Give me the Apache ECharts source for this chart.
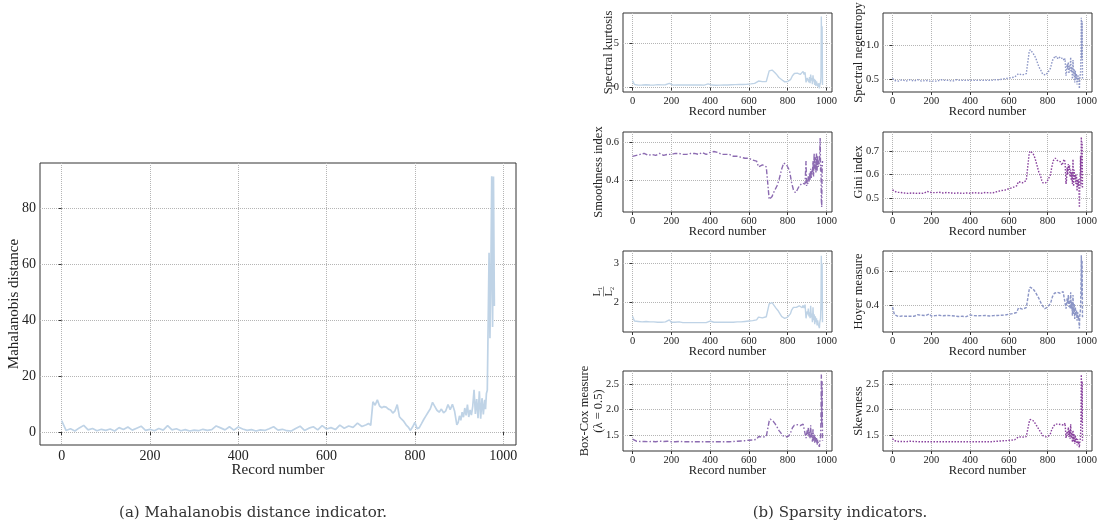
<!DOCTYPE html>
<html>
<head>
<meta charset="utf-8">
<title>Mahalanobis distance and sparsity indicators</title>
<script src="https://cdn.jsdelivr.net/npm/echarts@6/dist/echarts.min.js"></script>
<style>
  html, body { margin: 0; padding: 0; background: #fff; }
  #chart { width: 1104px; height: 525px; }
</style>
</head>
<body>
<div id="chart"></div>
<script>
const records = [
  0, 10, 20, 30, 40, 50, 60, 70, 80, 90,
  100, 110, 120, 130, 140, 150, 160, 170, 180, 190,
  200, 210, 220, 230, 240, 250, 260, 270, 280, 290,
  300, 310, 320, 330, 340, 350, 360, 370, 380, 390,
  400, 410, 420, 430, 440, 450, 460, 470, 480, 490,
  500, 510, 520, 530, 540, 550, 560, 570, 580, 590,
  600, 610, 620, 630, 640, 650, 660, 670, 680, 690,
  695, 700, 705, 710, 715, 720, 725, 730, 735, 740,
  745, 750, 755, 760, 765, 770, 775, 780, 785, 790,
  795, 800, 805, 810, 815, 820, 825, 830, 835, 840,
  845, 850, 855, 860, 865, 870, 875, 880, 885, 890,
  895,
  898, 901, 904, 907, 910, 913, 916, 919, 922, 925,
  928, 931, 934, 937, 940, 943, 946, 949, 952, 955,
  958,
  960, 962, 964, 966, 968, 970, 972, 974, 976, 978, 980
];

const xTicks = [0, 200, 400, 600, 800, 1000];

// (a) Mahalanobis distance
const mahalanobis = [
  4.1, 0.6, 1.2, 0.4, 1.5, 2.4, 0.8, 1.3, 0.5, 1.0,
  0.6, 1.1, 0.4, 1.6, 0.9, 1.8, 0.7, 1.4, 2.1, 0.6,
  1.0, 0.5, 1.3, 0.7, 2.3, 0.8, 1.2, 0.5, 0.9, 0.4,
  0.7, 0.5, 1.0, 0.6, 0.9, 2.2, 1.5, 0.8, 1.9, 0.7,
  1.8, 1.1, 0.6, 0.9, 0.4, 0.8, 0.6, 1.2, 1.9, 0.7,
  1.0, 0.5, 0.4, 1.3, 2.1, 0.6, 1.4, 1.9, 0.8, 2.3,
  1.1, 1.6, 0.9, 2.5, 1.4, 2.2, 1.7, 3.2, 2.0, 2.6,
  3.1, 2.4, 10.8, 9.6, 11.5, 9.3, 8.7, 9.1, 8.9, 8.2,
  7.9, 6.8, 7.6, 9.8, 5.5, 4.6, 3.8, 2.6, 1.8, 0.6,
  1.9, 3.5, 1.2, 1.6, 3.0, 4.5, 5.8, 7.1, 8.3, 10.6,
  9.2, 7.8, 7.1, 8.2, 6.9, 7.6, 9.8, 8.0, 9.9, 7.4,
  2.6,
  3.4, 5.8, 4.2, 7.1, 5.3, 8.6, 6.0, 9.8, 5.4, 7.9,
  6.1, 9.2, 15.1, 6.5, 11.8, 5.0, 14.6, 4.8, 12.1, 6.3,
  11.5,
  8.2, 13.8, 14.9, 15.5, 64.0, 33.5, 55.0, 91.3, 37.5, 91.2, 45.0
];

// (b) sparsity indicators
const spectralKurtosis = [
  0.8, 0.35, 0.3, 0.28, 0.32, 0.3, 0.27, 0.33, 0.3, 0.29,
  0.31, 0.28, 0.3, 0.34, 0.29, 0.31, 0.3, 0.33, 0.38, 0.48,
  0.3, 0.28, 0.31, 0.29, 0.33, 0.3, 0.27, 0.3, 0.28, 0.31,
  0.29, 0.3, 0.27, 0.31, 0.29, 0.3, 0.32, 0.28, 0.3, 0.42,
  0.35, 0.29, 0.3, 0.27, 0.31, 0.28, 0.3, 0.29, 0.32, 0.3,
  0.31, 0.33, 0.3, 0.34, 0.32, 0.35, 0.33, 0.36, 0.35, 0.38,
  0.4, 0.42, 0.45, 0.48, 0.5, 0.75, 0.7, 0.68, 0.72, 0.7,
  0.78, 0.85, 1.9, 2.05, 1.95, 2.0, 1.85, 1.8, 1.7, 1.6,
  1.45, 1.3, 1.15, 1.2, 1.0, 0.9, 0.8, 0.72, 0.65, 0.62,
  0.68, 0.7, 0.66, 0.75, 0.9, 1.1, 1.35, 1.5, 1.6, 1.7,
  1.55, 1.65, 1.6, 1.75, 1.5, 1.7, 1.6, 1.85, 1.5, 1.75,
  0.6,
  0.7, 1.1, 0.9, 1.3, 0.6, 1.2, 0.5, 1.5, 0.8, 1.1,
  0.4, 1.4, 0.7, 1.0, 0.3, 0.9, 0.2, 0.7, 0.4, 0.6,
  0.1,
  0.5, 0.2, -0.1, 0.3, 0.4, 0.6, 1.2, 8.1, 3.0, 7.0, 0.3
];

const spectralNegentropy = [
  0.51, 0.48, 0.49, 0.47, 0.48, 0.49, 0.48, 0.47, 0.48, 0.49,
  0.48, 0.47, 0.48, 0.49, 0.48, 0.47, 0.48, 0.48, 0.49, 0.47,
  0.48, 0.47, 0.48, 0.47, 0.48, 0.49, 0.47, 0.48, 0.47, 0.48,
  0.48, 0.47, 0.48, 0.49, 0.47, 0.48, 0.47, 0.48, 0.47, 0.48,
  0.47, 0.48, 0.47, 0.48, 0.47, 0.48, 0.47, 0.48, 0.47, 0.48,
  0.47, 0.48, 0.48, 0.49, 0.48, 0.49, 0.49, 0.5, 0.5, 0.51,
  0.51, 0.52, 0.52, 0.53, 0.53, 0.58, 0.57, 0.56, 0.57, 0.58,
  0.58, 0.6, 0.9, 0.93, 0.92, 0.91, 0.88, 0.86, 0.83, 0.8,
  0.76, 0.72, 0.68, 0.66, 0.63, 0.6, 0.57, 0.56, 0.55, 0.56,
  0.58, 0.59, 0.59, 0.6, 0.66, 0.72, 0.77, 0.8, 0.82, 0.84,
  0.82, 0.8, 0.81, 0.83, 0.8, 0.82, 0.79, 0.81, 0.77, 0.8,
  0.55,
  0.6, 0.72, 0.65, 0.75, 0.58, 0.7, 0.62, 0.82, 0.6, 0.68,
  0.5, 0.78, 0.55, 0.65, 0.45, 0.62, 0.5, 0.58, 0.42, 0.55,
  0.48,
  0.55, 0.45, 0.36, 0.5, 0.55, 0.6, 0.9, 1.4, 0.8, 1.35, 0.5
];

const smoothnessIndex = [
  0.525, 0.535, 0.53, 0.54, 0.535, 0.53, 0.54, 0.535, 0.53, 0.54,
  0.535, 0.54, 0.53, 0.535, 0.54, 0.535, 0.53, 0.54, 0.535, 0.54,
  0.535, 0.53, 0.54, 0.535, 0.54, 0.53, 0.535, 0.54, 0.535, 0.53,
  0.54, 0.545, 0.54, 0.545, 0.535, 0.54, 0.545, 0.54, 0.535, 0.54,
  0.545, 0.54, 0.55, 0.54, 0.545, 0.54, 0.535, 0.54, 0.535, 0.53,
  0.535, 0.53, 0.525, 0.53, 0.525, 0.52, 0.52, 0.515, 0.515, 0.51,
  0.515, 0.51, 0.505, 0.505, 0.5, 0.47, 0.475, 0.48, 0.475, 0.47,
  0.47, 0.465, 0.3, 0.305, 0.31, 0.315, 0.33, 0.34, 0.35, 0.36,
  0.37, 0.385, 0.4, 0.42, 0.44, 0.46, 0.475, 0.49, 0.495, 0.49,
  0.48, 0.475, 0.47, 0.45, 0.42, 0.39, 0.37, 0.35, 0.34, 0.335,
  0.345, 0.35, 0.36, 0.37, 0.375, 0.38, 0.385, 0.39, 0.385, 0.38,
  0.5,
  0.37, 0.4, 0.38, 0.42, 0.39, 0.44, 0.4, 0.46, 0.41, 0.45,
  0.43, 0.5, 0.42, 0.54, 0.46, 0.52, 0.44, 0.54, 0.45, 0.53,
  0.47,
  0.5, 0.48, 0.5, 0.55, 0.62, 0.45, 0.48, 0.3, 0.26, 0.45, 0.5
];

const giniIndex = [
  0.535, 0.528, 0.525, 0.53, 0.524, 0.527, 0.522, 0.526, 0.52, 0.525,
  0.522, 0.526, 0.52, 0.524, 0.521, 0.525, 0.52, 0.523, 0.528, 0.52,
  0.524, 0.519, 0.523, 0.52, 0.525, 0.518, 0.522, 0.52, 0.524, 0.518,
  0.522, 0.517, 0.521, 0.518, 0.522, 0.517, 0.52, 0.518, 0.522, 0.517,
  0.521, 0.518, 0.523, 0.519, 0.522, 0.518, 0.521, 0.519, 0.524, 0.52,
  0.522, 0.524, 0.523, 0.526, 0.528, 0.53, 0.532, 0.535, 0.534, 0.538,
  0.54, 0.543, 0.545, 0.548, 0.552, 0.57, 0.568, 0.565, 0.57, 0.575,
  0.575, 0.58, 0.69, 0.7, 0.695, 0.697, 0.69, 0.685, 0.67, 0.655,
  0.64, 0.625, 0.61, 0.6, 0.59, 0.575, 0.565, 0.56, 0.558, 0.565,
  0.57, 0.575, 0.575, 0.58, 0.6, 0.625, 0.645, 0.66, 0.665, 0.67,
  0.665, 0.66, 0.662, 0.665, 0.655, 0.65, 0.64, 0.645, 0.665, 0.655,
  0.56,
  0.58, 0.63, 0.6, 0.645, 0.62, 0.64, 0.59, 0.62, 0.575, 0.61,
  0.56, 0.665, 0.55, 0.62, 0.58, 0.6, 0.56, 0.6, 0.53, 0.58,
  0.55,
  0.58, 0.53, 0.46, 0.56, 0.6, 0.68, 0.55, 0.76, 0.6, 0.74, 0.54
];

const l1l2Ratio = [
  1.65, 1.53, 1.51, 1.52, 1.5, 1.51, 1.5, 1.52, 1.5, 1.51,
  1.5, 1.51, 1.49, 1.5, 1.51, 1.5, 1.49, 1.51, 1.53, 1.56,
  1.5, 1.49, 1.5, 1.49, 1.51, 1.5, 1.49, 1.5, 1.49, 1.5,
  1.49, 1.5, 1.49, 1.51, 1.49, 1.5, 1.49, 1.5, 1.49, 1.52,
  1.53, 1.49, 1.5, 1.49, 1.5, 1.49, 1.5, 1.49, 1.5, 1.49,
  1.5, 1.49, 1.5, 1.5, 1.51, 1.5, 1.51, 1.52, 1.52, 1.53,
  1.53, 1.54, 1.54, 1.55, 1.56, 1.63, 1.62, 1.61, 1.63, 1.64,
  1.64, 1.66, 1.97, 2.02, 1.98, 2.0, 1.96, 1.93, 1.88, 1.86,
  1.84, 1.8, 1.75, 1.72, 1.68, 1.64, 1.62, 1.61, 1.6, 1.6,
  1.62, 1.63, 1.64, 1.65, 1.72, 1.8, 1.85, 1.88, 1.9, 1.91,
  1.88, 1.9, 1.89, 1.92, 1.88, 1.9, 1.87, 1.93, 1.86, 1.95,
  1.6,
  1.62, 1.78, 1.7, 1.85, 1.65, 1.75, 1.6, 1.92, 1.62, 1.72,
  1.5, 1.88, 1.55, 1.7, 1.45, 1.65, 1.5, 1.6, 1.42, 1.55,
  1.45,
  1.5, 1.42, 1.35, 1.5, 1.55, 1.6, 2.0, 3.2, 1.8, 3.0, 1.5
];

const hoyerMeasure = [
  0.39, 0.345, 0.34, 0.335, 0.342, 0.338, 0.344, 0.336, 0.341, 0.337,
  0.343, 0.336, 0.34, 0.345, 0.337, 0.342, 0.335, 0.34, 0.348, 0.35,
  0.338, 0.334, 0.34, 0.336, 0.342, 0.335, 0.339, 0.334, 0.341, 0.336,
  0.34, 0.334, 0.338, 0.342, 0.335, 0.34, 0.336, 0.339, 0.334, 0.342,
  0.344, 0.336, 0.34, 0.334, 0.339, 0.335, 0.34, 0.336, 0.341, 0.335,
  0.338, 0.334, 0.34, 0.337, 0.341, 0.338, 0.342, 0.345, 0.343, 0.347,
  0.348, 0.35, 0.352, 0.355, 0.358, 0.385, 0.38, 0.378, 0.383, 0.386,
  0.388, 0.39, 0.49, 0.505, 0.5, 0.498, 0.495, 0.49, 0.48, 0.47,
  0.46, 0.45, 0.44, 0.43, 0.415, 0.405, 0.395, 0.385, 0.38, 0.382,
  0.386, 0.39, 0.388, 0.392, 0.41, 0.43, 0.45, 0.46, 0.47, 0.475,
  0.47, 0.475, 0.472, 0.478, 0.47, 0.476, 0.468, 0.48, 0.47, 0.485,
  0.38,
  0.39, 0.44, 0.41, 0.46, 0.39, 0.43, 0.38, 0.475, 0.38, 0.42,
  0.34, 0.46, 0.35, 0.41, 0.32, 0.39, 0.34, 0.37, 0.31, 0.36,
  0.32,
  0.34, 0.3, 0.265, 0.34, 0.36, 0.38, 0.5, 0.69, 0.45, 0.66, 0.33
];

const boxCoxMeasure = [
  1.43, 1.4, 1.39, 1.395, 1.385, 1.39, 1.385, 1.39, 1.38, 1.39,
  1.385, 1.39, 1.38, 1.385, 1.39, 1.38, 1.385, 1.38, 1.39, 1.385,
  1.38, 1.375, 1.38, 1.375, 1.385, 1.375, 1.38, 1.375, 1.38, 1.375,
  1.38, 1.375, 1.38, 1.375, 1.38, 1.375, 1.38, 1.375, 1.38, 1.385,
  1.38, 1.375, 1.38, 1.375, 1.38, 1.375, 1.38, 1.375, 1.38, 1.378,
  1.38, 1.382, 1.385, 1.385, 1.39, 1.39, 1.395, 1.398, 1.4, 1.405,
  1.408, 1.41, 1.415, 1.42, 1.425, 1.48, 1.475, 1.47, 1.478, 1.482,
  1.485, 1.49, 1.78, 1.82, 1.8, 1.81, 1.78, 1.76, 1.73, 1.7,
  1.67, 1.64, 1.6, 1.58, 1.55, 1.52, 1.5, 1.48, 1.47, 1.47,
  1.48, 1.49, 1.49, 1.5, 1.55, 1.6, 1.65, 1.68, 1.7, 1.72,
  1.7, 1.71, 1.7, 1.72, 1.69, 1.71, 1.68, 1.72, 1.69, 1.73,
  1.45,
  1.47, 1.6, 1.52, 1.65, 1.48, 1.58, 1.45, 1.7, 1.46, 1.55,
  1.38, 1.62, 1.4, 1.52, 1.35, 1.48, 1.38, 1.45, 1.32, 1.42,
  1.35,
  1.38, 1.32, 1.28, 1.38, 1.42, 1.48, 1.8, 2.68, 1.7, 2.55, 1.4
];

const skewness = [
  1.44, 1.4, 1.39, 1.385, 1.39, 1.385, 1.39, 1.38, 1.385, 1.39,
  1.38, 1.385, 1.39, 1.38, 1.385, 1.38, 1.39, 1.38, 1.385, 1.38,
  1.375, 1.38, 1.375, 1.38, 1.375, 1.38, 1.375, 1.38, 1.372, 1.38,
  1.375, 1.38, 1.372, 1.378, 1.375, 1.38, 1.372, 1.378, 1.375, 1.38,
  1.375, 1.378, 1.372, 1.38, 1.375, 1.378, 1.372, 1.38, 1.376, 1.38,
  1.378, 1.38, 1.383, 1.386, 1.388, 1.392, 1.394, 1.398, 1.4, 1.403,
  1.406, 1.41, 1.413, 1.418, 1.422, 1.475, 1.47, 1.468, 1.475, 1.48,
  1.485, 1.49, 1.76, 1.81, 1.84, 1.8, 1.79, 1.77, 1.74, 1.71,
  1.68, 1.65, 1.62, 1.59, 1.56, 1.53, 1.5, 1.49, 1.48, 1.475,
  1.48, 1.485, 1.49, 1.5, 1.54, 1.6, 1.64, 1.68, 1.7, 1.72,
  1.71, 1.7, 1.72, 1.7, 1.69, 1.71, 1.68, 1.72, 1.7, 1.74,
  1.45,
  1.46, 1.58, 1.5, 1.66, 1.47, 1.6, 1.44, 1.72, 1.45, 1.56,
  1.37, 1.6, 1.39, 1.53, 1.34, 1.5, 1.37, 1.46, 1.31, 1.43,
  1.34,
  1.38, 1.31, 1.27, 1.37, 1.42, 1.5, 1.85, 2.68, 1.75, 2.55, 1.4
];

// y tick values and their printed labels
const mdTicks = [0, 20, 40, 60, 80];
const mdTickLabels = ['0', '20', '40', '60', '80'];
const skTicks = [0, 5];
const skTickLabels = ['0', '5'];
const snTicks = [0.5, 1.0];
const snTickLabels = ['0.5', '1.0'];
const siTicks = [0.4, 0.6];
const siTickLabels = ['0.4', '0.6'];
const giTicks = [0.5, 0.6, 0.7];
const giTickLabels = ['0.5', '0.6', '0.7'];
const lrTicks = [2, 3];
const lrTickLabels = ['2', '3'];
const hmTicks = [0.4, 0.6];
const hmTickLabels = ['0.4', '0.6'];
const bcTicks = [1.5, 2.0, 2.5];
const bcTickLabels = ['1.5', '2.0', '2.5'];
const swTicks = [1.5, 2.0, 2.5];
const swTickLabels = ['1.5', '2.0', '2.5'];

const SERIF = '"Liberation Serif", "DejaVu Serif", serif';
const TEXT = '#222';

// layout + style for each panel
const panels = [
  { name: 'Mahalanobis distance', vals: mahalanobis, ticks: mdTicks, labels: mdTickLabels,
    box: [40, 163, 476, 282], yMin: -4.6, yMax: 96, color: '#bfd3e6', dash: 'solid', gap: 18, big: true },
  { name: 'Spectral kurtosis', vals: spectralKurtosis, ticks: skTicks, labels: skTickLabels,
    box: [623, 13, 209, 79], yMin: -0.5, yMax: 8.5, color: '#bfd3e6', dash: 'solid', gap: 8 },
  { name: 'Spectral negentropy', vals: spectralNegentropy, ticks: snTicks, labels: snTickLabels,
    box: [883, 13, 209, 79], yMin: 0.31, yMax: 1.47, color: '#8c96c6', dash: [1.5, 1.5], gap: 18 },
  { name: 'Smoothness index', vals: smoothnessIndex, ticks: siTicks, labels: siTickLabels,
    box: [623, 132, 209, 80], yMin: 0.234, yMax: 0.652, color: '#8c6bb1', dash: [5, 2, 1.5, 2], gap: 18 },
  { name: 'Gini index', vals: giniIndex, ticks: giTicks, labels: giTickLabels,
    box: [883, 132, 209, 80], yMin: 0.441, yMax: 0.781, color: '#88419d', dash: [1.5, 1.5], gap: 18 },
  { name: 'L\u2081\n\u2014\nL\u2082', vals: l1l2Ratio, ticks: lrTicks, labels: lrTickLabels,
    box: [623, 251, 209, 81], yMin: 1.25, yMax: 3.32, color: '#bfd3e6', dash: 'solid', gap: 11, frac: true },
  { name: 'Hoyer measure', vals: hoyerMeasure, ticks: hmTicks, labels: hmTickLabels,
    box: [883, 251, 209, 81], yMin: 0.245, yMax: 0.715, color: '#8c96c6', dash: [3, 1.5], gap: 18 },
  { name: 'Box-Cox measure\n(\u03bb = 0.5)', vals: boxCoxMeasure, ticks: bcTicks, labels: bcTickLabels,
    box: [623, 371, 209, 80], yMin: 1.2, yMax: 2.75, color: '#8c6bb1', dash: [5, 2, 1.5, 2], gap: 18 },
  { name: 'Skewness', vals: skewness, ticks: swTicks, labels: swTickLabels,
    box: [883, 371, 209, 80], yMin: 1.2, yMax: 2.75, color: '#88419d', dash: [1.5, 1.5], gap: 18 }
];

const grids = [], xAxes = [], yAxes = [], series = [];

panels.forEach((p, i) => {
  const tickSize = p.big ? 14 : 10.5;
  const nameSize = p.big ? 15 : 12.5;

  grids.push({
    left: p.box[0], top: p.box[1], width: p.box[2], height: p.box[3],
    show: true, borderColor: '#333', borderWidth: 1, backgroundColor: 'transparent'
  });

  xAxes.push({
    gridIndex: i, type: 'value', min: -49, max: 1029,
    name: 'Record number', nameLocation: 'middle', nameGap: p.big ? 18 : 13,
    nameMoveOverlap: false,
    nameTextStyle: { fontFamily: SERIF, fontSize: nameSize, color: TEXT },
    axisLine: { show: false },
    axisTick: { show: true, length: 3, customValues: xTicks, lineStyle: { color: '#333' } },
    axisLabel: {
      customValues: xTicks, fontFamily: SERIF, fontSize: tickSize, color: TEXT, margin: 4,
      formatter: v => String(v)
    },
    splitLine: { show: true, lineStyle: { color: '#b5b5b5', type: 'dotted', width: 1 } }
  });

  yAxes.push({
    gridIndex: i, type: 'value', min: p.yMin, max: p.yMax,
    name: p.name, nameLocation: 'middle', nameRotate: 90, nameGap: p.gap,
    nameMoveOverlap: false,
    nameTextStyle: p.frac
      ? { fontFamily: SERIF, fontSize: 10, lineHeight: 6, color: TEXT }
      : { fontFamily: SERIF, fontSize: nameSize, lineHeight: nameSize + 1, color: TEXT },
    axisLine: { show: false },
    axisTick: { show: true, length: 3, customValues: p.ticks, lineStyle: { color: '#333' } },
    axisLabel: {
      customValues: p.ticks, fontFamily: SERIF, fontSize: tickSize, color: TEXT, margin: 4,
      formatter: v => {
        const k = p.ticks.findIndex(t => Math.abs(t - v) < 1e-9);
        return k >= 0 ? p.labels[k] : '';
      }
    },
    splitLine: { show: true, lineStyle: { color: '#b5b5b5', type: 'dotted', width: 1 } }
  });

  series.push({
    type: 'line', xAxisIndex: i, yAxisIndex: i,
    data: records.map((r, k) => [r, p.vals[k]]),
    symbol: 'none', silent: true,
    lineStyle: { color: p.color, width: p.big ? 1.7 : 1.4, type: p.dash }
  });
});

const chart = echarts.init(document.getElementById('chart'), null, { renderer: 'canvas' });
chart.setOption({
  animation: false,
  backgroundColor: '#fff',
  grid: grids,
  xAxis: xAxes,
  yAxis: yAxes,
  series: series,
  graphic: [
    { type: 'text', x: 253, y: 513,
      style: { text: '(a) Mahalanobis distance indicator.', font: '15px "DejaVu Serif"', fill: '#333',
               align: 'center', verticalAlign: 'middle' } },
    { type: 'text', x: 840, y: 513,
      style: { text: '(b) Sparsity indicators.', font: '15px "DejaVu Serif"', fill: '#333',
               align: 'center', verticalAlign: 'middle' } }
  ]
});

window.addEventListener('resize', () => chart.resize());
</script>
</body>
</html>
